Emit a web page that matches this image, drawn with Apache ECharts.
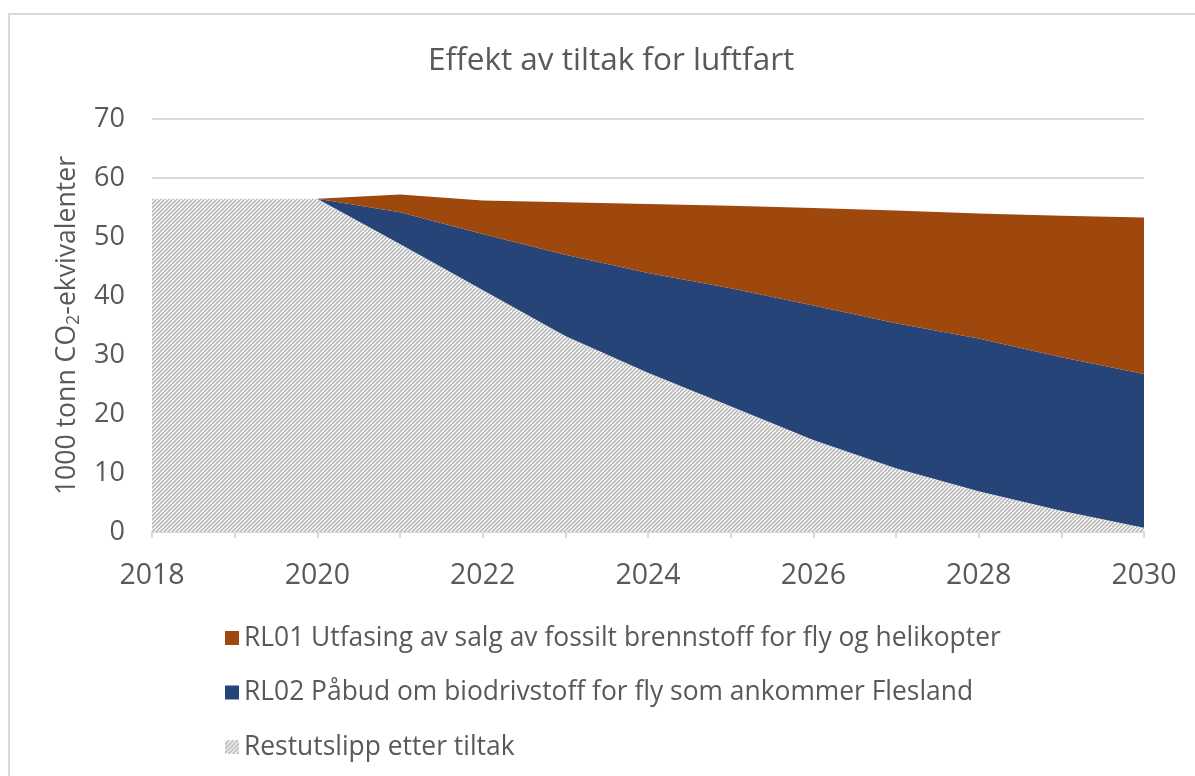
<!DOCTYPE html>
<html><head><meta charset="utf-8">
<script src="https://cdn.jsdelivr.net/npm/echarts@6/dist/echarts.min.js"></script>
<style>html,body{margin:0;padding:0;background:#fff}#c{width:1195px;height:776px}</style>
</head><body><div id="c"></div>
<script>
const years = ['2018','2019','2020','2021','2022','2023','2024','2025','2026','2027','2028','2029','2030'];
const restutslipp = [56.5,56.5,56.5,48.8,41.0,33.2,27.0,21.3,15.6,10.8,6.9,3.6,0.7];
const rl02 = [0,0,0,5.4,9.5,13.8,16.9,20.0,22.8,24.6,25.9,26.0,26.1];
const rl01 = [0,0,0,3.0,5.7,8.9,11.7,14.0,16.5,19.1,21.2,24.0,26.5];
const names = ['RL01 Utfasing av salg av fossilt brennstoff for fly og helikopter','RL02 Påbud om biodrivstoff for fly som ankommer Flesland','Restutslipp etter tiltak'];

function hatch(size){
  const c=document.createElement('canvas');c.width=size;c.height=size;
  const g=c.getContext('2d');g.fillStyle='#fff';g.fillRect(0,0,size,size);
  g.strokeStyle='#bababa';g.lineWidth=1.7;
  for(let k=-size;k<=2*size;k+=4){g.beginPath();g.moveTo(k,size);g.lineTo(k+size,0);g.stroke();}
  return c;
}
const pat = hatch(8);
const iconUrl = hatch(13).toDataURL();
const font = '"Open Sans", sans-serif';
const txt = '#595959';
const chart = echarts.init(document.getElementById('c'));
chart.setOption({
  animation:false,
  backgroundColor:'#fff',
  textStyle:{fontFamily:font},
  graphic:[{type:'rect',shape:{x:9,y:14,width:1300,height:900},style:{fill:'none',stroke:'#d9d9d9',lineWidth:2},silent:true}],
  title:{text:'Effekt av tiltak for luftfart',left:423,top:40,textStyle:{fontFamily:font,fontSize:31.5,fontWeight:'normal',color:txt}},
  grid:{left:152,right:51,top:119,bottom:244},
  legend:{orient:'vertical',left:220,top:620,itemGap:28.5,itemWidth:14,itemHeight:14,
    textStyle:{fontFamily:font,fontSize:26.4,color:txt},
    data:[{name:names[0],icon:'rect'},{name:names[1],icon:'rect'},{name:names[2],icon:'image://'+iconUrl}]},
  xAxis:{type:'category',data:years,boundaryGap:false,
    axisLine:{lineStyle:{color:'#d9d9d9',width:2}},
    axisTick:{show:true,interval:0,length:6,lineStyle:{color:'#d9d9d9',width:2}},
    axisLabel:{interval:1,fontFamily:font,fontSize:28.5,color:txt,margin:29}},
  yAxis:{type:'value',min:0,max:70,interval:10,
    name:'1000 tonn CO{s|2}-ekvivalenter',nameLocation:'middle',nameGap:63,nameRotate:90,
    nameTextStyle:{fontFamily:font,fontSize:26.6,color:txt,rich:{s:{fontFamily:font,fontSize:18,color:txt,verticalAlign:'bottom',padding:[13,0,0,0]}}},
    axisLine:{show:false},axisTick:{show:false},
    axisLabel:{fontFamily:font,fontSize:27,color:txt,margin:27},
    splitLine:{lineStyle:{color:'#d9d9d9',width:2}}},
  series:[
    {name:names[2],type:'line',stack:'a',data:restutslipp,symbol:'none',lineStyle:{width:0},
      itemStyle:{color:'#bdbdbd'},areaStyle:{color:{image:pat,repeat:'repeat'},opacity:1}},
    {name:names[1],type:'line',stack:'a',data:rl02,symbol:'none',lineStyle:{width:0},
      itemStyle:{color:'#264478'},areaStyle:{color:'#264478',opacity:1}},
    {name:names[0],type:'line',stack:'a',data:rl01,symbol:'none',lineStyle:{width:0},
      itemStyle:{color:'#9E480E'},areaStyle:{color:'#9E480E',opacity:1}}
  ]
});
</script></body></html>
